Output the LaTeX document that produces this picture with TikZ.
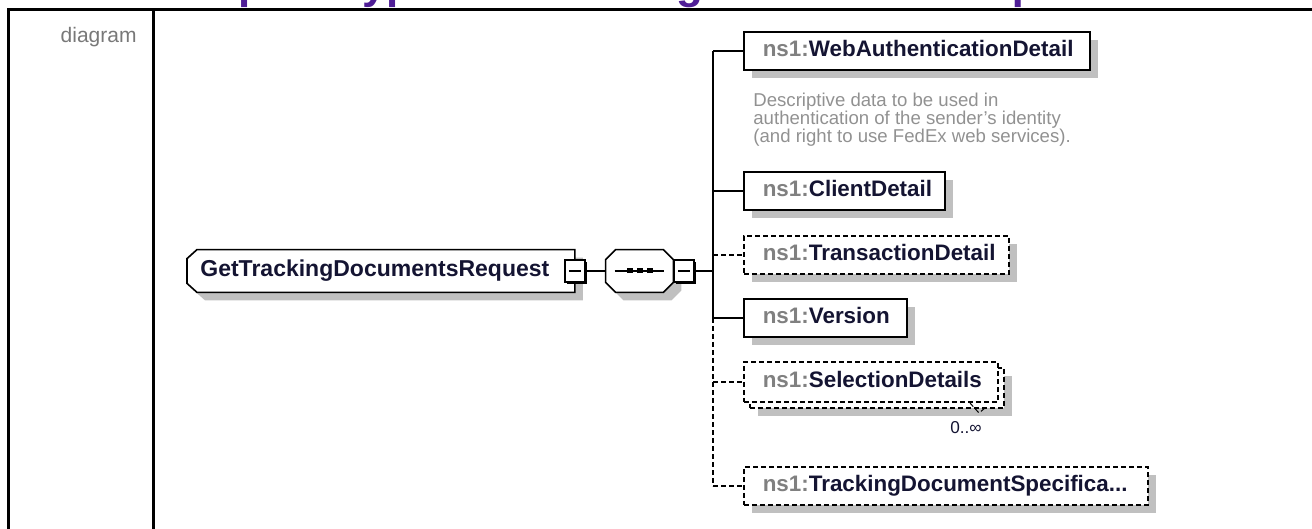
\documentclass[tikz,border=0pt]{standalone}
\usepackage{fontspec}
\setmainfont{Liberation Sans}
\usepackage{tikz}
\usetikzlibrary{positioning,shadows}
\definecolor{xsdPurple}{RGB}{79,30,150}
\definecolor{xsdNavy}{RGB}{20,20,50}
\definecolor{nsGray}{RGB}{128,128,128}
\definecolor{descGray}{RGB}{145,145,145}
\definecolor{cellGray}{RGB}{120,120,120}
\definecolor{xsdShadow}{RGB}{192,192,192}
\pgfdeclarelayer{back}
\pgfsetlayers{back,main}
\tikzset{
  frameline/.style={line width=1.5pt, black},
  conn/.style={line width=0.8pt, black},
  optdash/.style={dash pattern=on 2.4pt off 1.6pt},
  optconn/.style={conn, optdash},
  boxshadow/.style={drop shadow={shadow xshift=4pt, shadow yshift=-4pt, fill=xsdShadow, opacity=1}},
  elembase/.style={conn, draw, fill=white, anchor=west, minimum height=19pt, inner xsep=9.5pt, inner ysep=0pt,
    text height=8.2pt, text depth=2.3pt, align=left, text=xsdNavy, font=\bfseries\fontsize{11.2}{13}\selectfont},
  elem/.style={elembase, boxshadow},
  optelem/.style={elem, optdash},
  stackfront/.style={elembase, optdash},
  rootbox/.style={anchor=west, minimum height=21pt, inner xsep=6.5pt, inner ysep=0pt, text width=180.5pt, align=left,
    text height=8.2pt, text depth=2.3pt, text=xsdNavy, font=\bfseries\fontsize{11.5}{13}\selectfont},
  seqbox/.style={minimum width=33.5pt, minimum height=21pt, inner sep=0pt},
  minusbox/.style={draw, line width=0.8pt, fill=white, minimum width=10pt, minimum height=11pt, inner sep=0pt,
    drop shadow={shadow xshift=1pt, shadow yshift=-1pt, fill=black, opacity=1},
    path picture={\draw[line width=0.8pt] ([xshift=2pt]path picture bounding box.west) -- ([xshift=-2pt]path picture bounding box.east);}},
  descText/.style={inner sep=0pt, align=left, text=descGray, font=\fontsize{9.3}{9}\selectfont},
  multText/.style={inner sep=0pt, text=xsdNavy, font=\fontsize{8.6}{10}\selectfont},
  headText/.style={inner sep=0pt, text=xsdPurple, font=\bfseries\fontsize{21.9}{26}\selectfont},
  cellText/.style={inner sep=0pt, text=cellGray, font=\fontsize{10.5}{12}\selectfont},
}

\begin{document}
\begin{tikzpicture}[x=0.5pt,y=-0.5pt]
\useasboundingbox (0,0) rectangle (1312,529);
% heading, cut by the top of the page
\begin{scope}
\clip (0,0) rectangle (1312,529);
\node[headText, anchor=base west] (heading) at (141,-1) {Complex Type GetTrackingDocumentsRequest};
\end{scope}
\draw[frameline] (8,529) -- (8,10) -- (1312,10);
\draw[frameline] (153,10) -- (153,529);
\node[cellText, anchor=base east] (cellName) at (137,43) {diagram};

% root element and its sequence
\node[rootbox] (root) at (187,271) {GetTrackingDocumentsRequest};
\node[minusbox] (rootMinus) at (root.east) {};
\node[seqbox, right=10pt of rootMinus] (seq) {};
\node[minusbox, anchor=west] (seqMinus) at (seq.east) {};
\begin{pgfonlayer}{back}
\draw[conn, fill=white, boxshadow] ([shift={(10,0)}]root.north west) -- (root.north east) -- (root.south east)
  -- ([shift={(10,0)}]root.south west) -- ([shift={(0,-9)}]root.south west) -- ([shift={(0,9)}]root.north west) -- cycle;
\draw[conn, fill=white, boxshadow] ([shift={(10,0)}]seq.north west) -- ([shift={(-10,0)}]seq.north east)
  -- ([shift={(0,10)}]seq.north east) -- ([shift={(0,-10)}]seq.south east) -- ([shift={(-10,0)}]seq.south east)
  -- ([shift={(10,0)}]seq.south west) -- ([shift={(0,-10)}]seq.south west) -- ([shift={(0,10)}]seq.north west) -- cycle;
\end{pgfonlayer}
\draw[conn] ([shift={(9,0)}]seq.west) -- ([shift={(-9,0)}]seq.east);
\foreach \dx in {-10,0,10}
  \fill ([shift={(\dx-3,-2.5)}]seq.center) rectangle ([shift={(\dx+3,2.5)}]seq.center);
\draw[conn] (rootMinus.east) -- (seq.west);

% children of the sequence
\coordinate (spine) at (713,271);
\draw[conn] (seqMinus.east) -- (spine);
\node[elem, text width=154pt] (webAuth) at (743,51) {\textcolor{nsGray}{ns1:}WebAuthenticationDetail};
\node[descText, anchor=north west] (webAuthDoc) at (753,93) {Descriptive data to be used in\\authentication of the sender's identity\\(and right to use FedEx web services).};
\node[elem, text width=81.5pt] (client) at (743,191) {\textcolor{nsGray}{ns1:}ClientDetail};
\node[optelem, text width=113.5pt] (transaction) at (743,255) {\textcolor{nsGray}{ns1:}TransactionDetail};
\node[elem, text width=62.5pt] (version) at (743,318) {\textcolor{nsGray}{ns1:}Version};
\node[optelem, text width=108pt, minimum height=20pt] (selectionBack) at (749,388) {};
\node[stackfront, text width=108pt, minimum height=20pt] (selection) at (743,382) {\textcolor{nsGray}{ns1:}SelectionDetails};
\draw[optconn, line width=0.5pt] (970,403) -- (979,413) -- (985,408);
\node[multText] (selectionMult) at (966,428) {0..∞};
\node[optelem, text width=183pt] (trackSpec) at (743,486) {\textcolor{nsGray}{ns1:}TrackingDocumentSpecifica...};

\draw[conn] (spine |- webAuth.west) -- (spine |- version.west);
\draw[optconn] (spine |- version.west) -- (spine |- trackSpec.west);
\draw[conn] (spine |- webAuth.west) -- (webAuth.west);
\draw[conn] (spine |- client.west) -- (client.west);
\draw[optconn] (spine |- transaction.west) -- (transaction.west);
\draw[conn] (spine |- version.west) -- (version.west);
\draw[optconn] (spine |- selection.west) -- (selection.west);
\draw[optconn] (spine |- trackSpec.west) -- (trackSpec.west);
\end{tikzpicture}
\end{document}
